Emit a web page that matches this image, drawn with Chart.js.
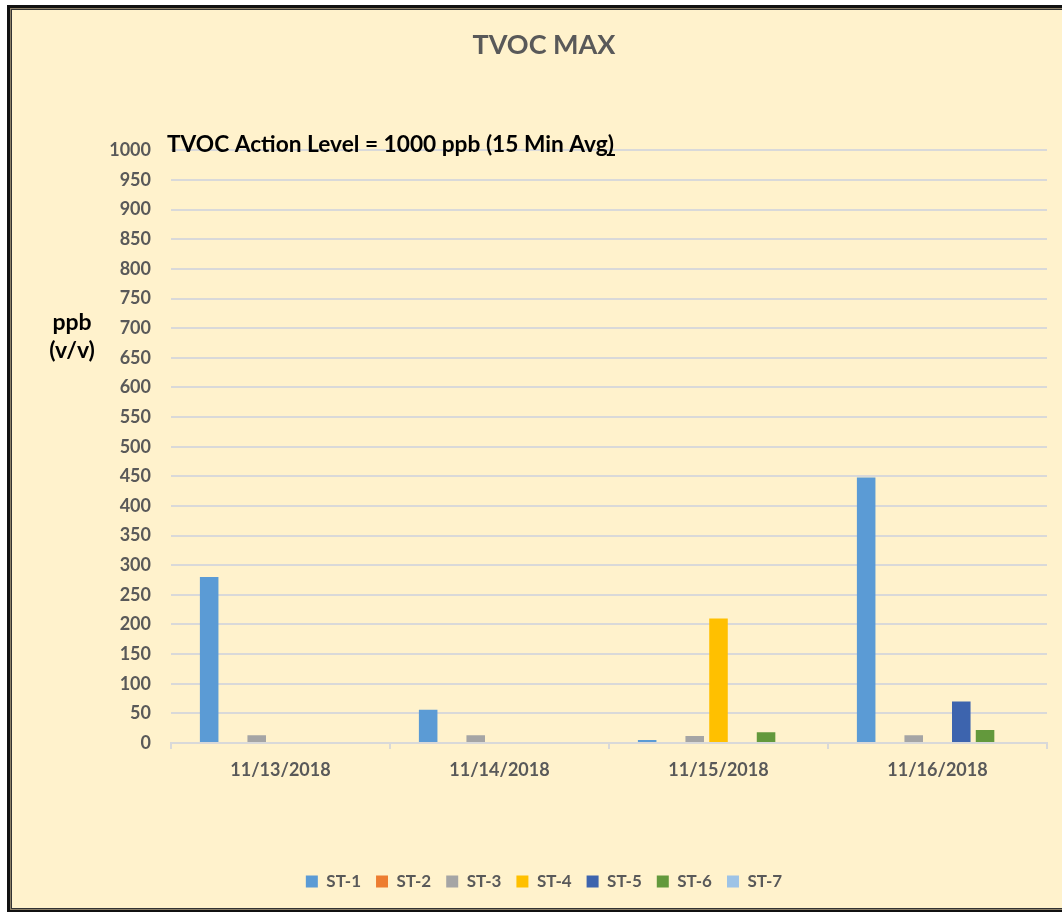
<!DOCTYPE html>
<html>
<head>
<meta charset="utf-8">
<script src="https://cdn.jsdelivr.net/npm/chart.js@4/dist/chart.umd.min.js"></script>
<style>
  html, body { margin: 0; padding: 0; background: #fff; overflow: hidden; }
  #frame {
    position: absolute; left: 7px; top: 5px; width: 1090px; height: 902px;
    background: #FFF2CC; border: 3px solid #111;
    box-shadow: inset 0 0 0 1px #8c8068, inset 0 0 0 2px #333;
  }
  #myChart { position: absolute; left: 0; top: 0; }
</style>
</head>
<body>
<div id="frame"></div>
<canvas id="myChart" width="1088" height="912"></canvas>
<script>
// Categorias (datas)
const datas = ['11/13/2018', '11/14/2018', '11/15/2018', '11/16/2018'];

// Valores por estação (ppb)
const st1 = [280, 56, 5, 448];
const st2 = [0, 0, 0, 0];
const st3 = [13, 13, 12, 13];
const st4 = [0, 0, 210, 0];
const st5 = [0, 0, 0, 70];
const st6 = [0, 0, 18, 22];
const st7 = [0, 0, 0, 0];

const nomes = ['ST-1', 'ST-2', 'ST-3', 'ST-4', 'ST-5', 'ST-6', 'ST-7'];
const cores = ['#5B9BD5', '#ED7D31', '#A5A5A5', '#FFC000', '#3D64AE', '#63993C', '#9DC3E6'];
const series = [st1, st2, st3, st4, st5, st6, st7];

const tituloY = ['ppb', '(v/v)'];
const nivelAcao = 'TVOC Action Level = 1000 ppb (15 Min Avg)';

const fonte = 'Lato';
const cinza = '#595959';
const grade = '#D9D9D9';

// Textos extras (rótulo do eixo Y na horizontal e nível de ação)
const textosExtras = {
    id: 'textosExtras',
    afterDraw(chart) {
        const ctx = chart.ctx;
        ctx.save();
        ctx.fillStyle = '#000';
        ctx.font = 'bold 22.7px ' + fonte;
        ctx.textAlign = 'left';
        ctx.textBaseline = 'alphabetic';
        ctx.fillText(nivelAcao, 167, 152);
        // sublinhado só no ")" final, como no original
        const larguraTotal = ctx.measureText(nivelAcao).width;
        const larguraParen = ctx.measureText(')').width;
        ctx.fillRect(167 + larguraTotal - larguraParen - 1, 154, larguraParen + 2, 2);
        ctx.textAlign = 'center';
        ctx.textBaseline = 'middle';
        ctx.font = 'bold 23px ' + fonte;
        ctx.fillText(tituloY[0], 72, 323);
        ctx.fillText(tituloY[1], 72, 351);
        ctx.restore();
    }
};

const ctx = document.getElementById('myChart').getContext('2d');
const grafico = new Chart(ctx, {
    type: 'bar',
    data: {
        labels: datas,
        datasets: series.map((valores, i) => ({
            label: nomes[i],
            data: valores,
            backgroundColor: cores[i],
            borderWidth: 0,
            categoryPercentage: 0.76,
            barPercentage: 0.78
        }))
    },
    options: {
        responsive: false,
        animation: false,
        layout: { padding: { left: 0, right: 0, top: 0, bottom: 12 } },
        scales: {
            y: {
                min: 0,
                max: 1000,
                ticks: {
                    stepSize: 50,
                    color: cinza,
                    padding: 20,
                    font: { family: fonte, size: 18, weight: 'bold' },
                    callback: (valor) => String(valor) // sem separador de milhar
                },
                grid: { color: grade, lineWidth: 2, drawTicks: false },
                border: { display: false },
                afterFit(scale) { scale.width = 171; }
            },
            // eixo vazio à direita só para reservar espaço (gráfico original é cortado)
            direita: {
                position: 'right',
                min: 0,
                max: 1000,
                ticks: { display: false },
                grid: { display: false },
                border: { display: false },
                afterFit(scale) { scale.width = 41; }
            },
            x: {
                ticks: {
                    color: cinza,
                    padding: 10,
                    font: { family: fonte, size: 18, weight: 'bold' }
                },
                grid: { color: grade, lineWidth: 2, drawOnChartArea: false, tickLength: 6 },
                border: { color: grade, width: 2 },
                afterFit(scale) { scale.height = 115; }
            }
        },
        plugins: {
            title: {
                display: true,
                text: 'TVOC MAX',
                color: cinza,
                font: { family: fonte, size: 27, weight: 'bold' },
                padding: { top: 29, bottom: 89 }
            },
            legend: {
                display: true,
                position: 'bottom',
                labels: {
                    boxWidth: 12,
                    boxHeight: 12,
                    padding: 15,
                    color: cinza,
                    font: { family: fonte, size: 17, weight: 'bold' }
                }
            },
            tooltip: { enabled: false }
        }
    },
    plugins: [textosExtras]
});
</script>
</body>
</html>
